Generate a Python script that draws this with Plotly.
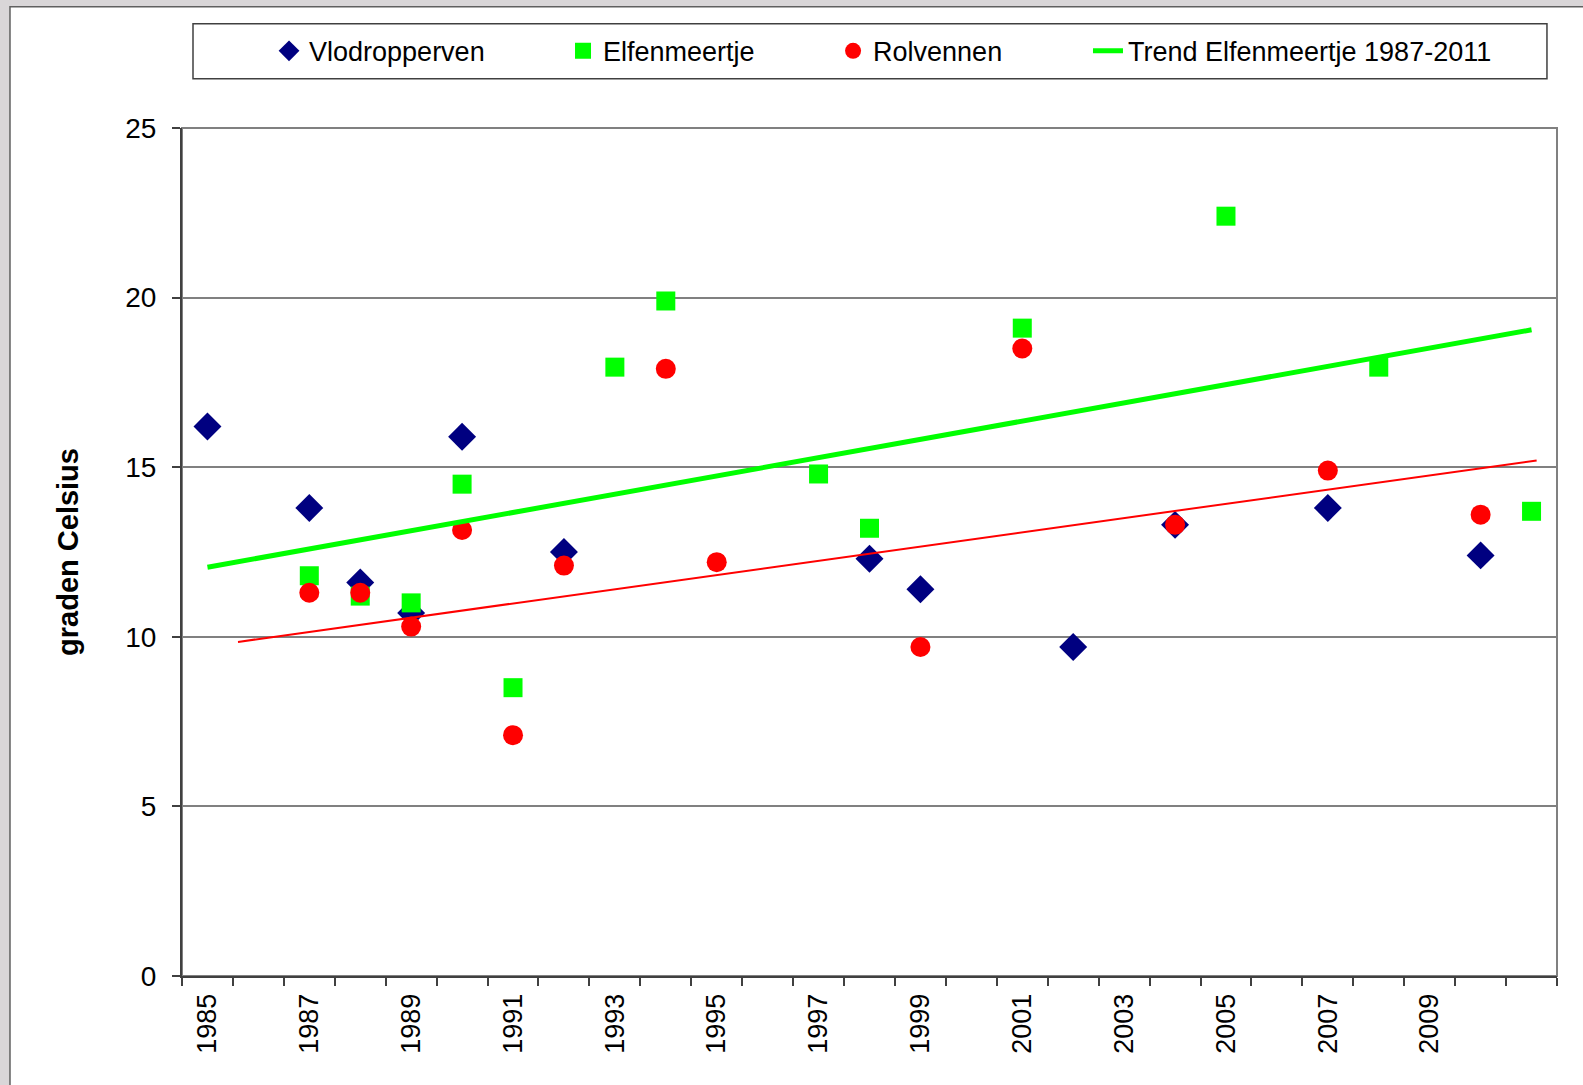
import plotly.graph_objects as go

YEARS = list(range(1985, 2012))

VLOD_YEARS = [1985, 1987, 1988, 1989, 1990, 1992, 1998, 1999, 2002, 2004, 2007, 2010]
VLOD_TEMP = [16.2, 13.8, 11.6, 10.7, 15.9, 12.5, 12.3, 11.4, 9.7, 13.3, 13.8, 12.4]

ELF_YEARS = [1987, 1988, 1989, 1990, 1991, 1993, 1994, 1997, 1998, 2001, 2005, 2008, 2011]
ELF_TEMP = [11.8, 11.2, 11.0, 14.5, 8.5, 17.95, 19.9, 14.8, 13.2, 19.1, 22.4, 17.95, 13.7]

ROL_YEARS = [1987, 1988, 1989, 1990, 1991, 1992, 1994, 1995, 1999, 2001, 2004, 2007, 2010]
ROL_TEMP = [11.3, 11.3, 10.3, 13.15, 7.1, 12.1, 17.9, 12.2, 9.7, 18.5, 13.3, 14.9, 13.6]

# trend line end points
TREND_ELF_X = [1985.0, 2011.0]
TREND_ELF_Y = [12.05, 19.05]
TREND_ROL_X = [1985.6, 2011.1]
TREND_ROL_Y = [9.85, 15.2]

TICK_YEARS = YEARS[::2][:-1]
TICK_LABELS = [str(y) for y in TICK_YEARS]
BOUNDS = [y - 0.5 for y in YEARS] + [YEARS[-1] + 0.5]

FONT = "Liberation Sans, Arial, sans-serif"

fig = go.Figure()
fig.add_trace(go.Scatter(
    x=VLOD_YEARS, y=VLOD_TEMP, mode="markers", name="Vlodropperven",
    marker=dict(symbol="diamond", size=21.5, color="#000080"), legend="legend",
))
fig.add_trace(go.Scatter(
    x=ELF_YEARS, y=ELF_TEMP, mode="markers", name="Elfenmeertje",
    marker=dict(symbol="square", size=19, color="#00FF00"), legend="legend2",
))
fig.add_trace(go.Scatter(
    x=ROL_YEARS, y=ROL_TEMP, mode="markers", name="Rolvennen",
    marker=dict(symbol="circle", size=20, color="#FF0000"), legend="legend3",
))
fig.add_trace(go.Scatter(
    x=TREND_ELF_X, y=TREND_ELF_Y, mode="lines", name="Trend Elfenmeertje 1987-2011",
    line=dict(color="#00FF00", width=5), legend="legend4",
))
fig.add_trace(go.Scatter(
    x=TREND_ROL_X, y=TREND_ROL_Y, mode="lines", showlegend=False,
    line=dict(color="#FF0000", width=2),
))


def legend_at(x):
    return dict(orientation="h", x=x, xanchor="left", y=1.0905, yanchor="middle",
                font=dict(size=27), itemsizing="trace",
                bgcolor="rgba(0,0,0,0)", borderwidth=0)


fig.update_layout(
    width=1583, height=1085,
    margin=dict(l=182, r=26, t=128, b=109),
    paper_bgcolor="#d9d6d8",
    plot_bgcolor="white",
    font=dict(family=FONT, size=27, color="black"),
    showlegend=True,
    legend=legend_at(0.0633),
    legend2=legend_at(0.2771),
    legend3=legend_at(0.4735),
    legend4=legend_at(0.6589),
    xaxis=dict(
        range=[YEARS[0] - 0.5, YEARS[-1] + 0.5],
        tickmode="array", tickvals=TICK_YEARS, ticktext=TICK_LABELS,
        tickangle=-90, ticks="", ticklabelstandoff=5,
        tickfont=dict(size=27),
        minor=dict(tickmode="array", tickvals=BOUNDS, ticks="outside",
                   ticklen=8, tickcolor="#404040", tickwidth=2, showgrid=False),
        showgrid=False, zeroline=False,
        showline=True, linecolor="#404040", linewidth=2,
    ),
    yaxis=dict(
        range=[0, 25], dtick=5, ticks="outside", ticklen=8,
        tickcolor="#404040", tickwidth=2, ticklabelstandoff=10,
        tickfont=dict(size=28),
        showgrid=True, gridcolor="#808080", gridwidth=1.5,
        zeroline=False, showline=True, linecolor="#404040", linewidth=2,
        title=dict(text="<b>graden Celsius</b>", font=dict(size=29), standoff=38),
    ),
    shapes=[
        # white card on the grey background
        dict(type="rect", xref="paper", yref="paper", x0=-0.1251, x1=1.1,
             y0=-0.2, y1=1.1429, fillcolor="white",
             line=dict(color="#606060", width=1.5), layer="below"),
        # plot area border (top/right grey)
        dict(type="rect", xref="paper", yref="paper", x0=0, x1=1, y0=0, y1=1,
             line=dict(color="#808080", width=2), layer="below"),
        # legend box
        dict(type="rect", xref="paper", yref="paper", x0=0.008, x1=0.9927,
             y0=1.058, y1=1.1229, line=dict(color="#404040", width=1.5),
             layer="below"),
    ],
)

fig.write_html("out.html", config={"displayModeBar": False},
               post_script="document.body.style.margin='0';")
